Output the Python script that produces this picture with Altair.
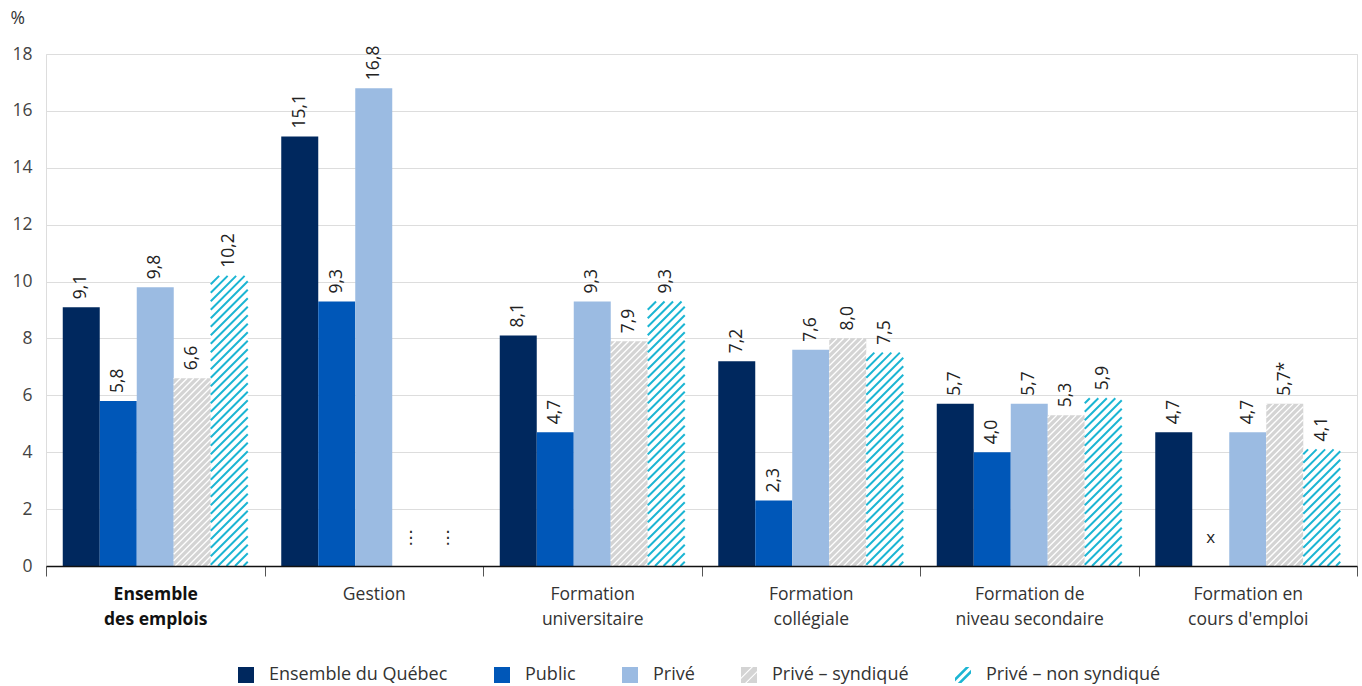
import json
import altair as alt
import pandas as pd

# ---------------- data ----------------
groups = ["Ensemble des emplois", "Gestion", "Formation universitaire",
          "Formation collégiale", "Formation de niveau secondaire",
          "Formation en cours d'emploi"]
group_lines = [["Ensemble", "des emplois"], ["Gestion"], ["Formation", "universitaire"],
               ["Formation", "collégiale"], ["Formation de", "niveau secondaire"],
               ["Formation en", "cours d'emploi"]]
series = ["Ensemble du Québec", "Public", "Privé", "Privé – syndiqué", "Privé – non syndiqué"]

v_ensemble = [9.1, 15.1, 8.1, 7.2, 5.7, 4.7]
v_public = [5.8, 9.3, 4.7, 2.3, 4.0, None]
v_prive = [9.8, 16.8, 9.3, 7.6, 5.7, 4.7]
v_synd = [6.6, None, 7.9, 8.0, 5.3, 5.7]
v_nonsynd = [10.2, None, 9.3, 7.5, 5.9, 4.1]
values = [v_ensemble, v_public, v_prive, v_synd, v_nonsynd]

# footnote flags on labels (group index, series index, flag)
flag_group = [5]
flag_series = [3]
flag_text = ["*"]

# missing-value symbols
missing_group = [1, 1, 5]
missing_series = [3, 4, 1]
missing_symbol = ["⋮", "⋮", "x"]

# ---------------- style ----------------
colors_bar = ["#00285e", "#0057b8", "#9bbbe2", "#d4d4d4", "#ffffff"]
colors_legend = ["#00285e", "#0057b8", "#9bbbe2", "#d4d4d4", "#1bb5d3"]
CYAN = "#1bb5d3"
FONT = "Open Sans"
FS = 17.5

W, H = 1311, 512
YMAX = 18
NG = len(groups)
PXU = W / NG
PYU = H / YMAX
BAR_PX = 37.0
PAD_PX = (PXU - len(series) * BAR_PX) / 2

# ---------------- tables ----------------
rows = []
for si, s in enumerate(series):
    for gi, g in enumerate(groups):
        v = values[si][gi]
        if v is None:
            continue
        lab = f"{v:.1f}".replace(".", ",")
        for fg, fs, ft in zip(flag_group, flag_series, flag_text):
            if fg == gi and fs == si:
                lab += ft
        x0_px = gi * PXU + PAD_PX + si * BAR_PX
        rows.append({"group": g, "series": s, "value": v, "label": lab,
                     "x0": x0_px / PXU, "x1": (x0_px + BAR_PX) / PXU,
                     "xc": (x0_px + BAR_PX / 2) / PXU, "zero": 0})
bars = pd.DataFrame(rows)


def hatch(x0_px, w, h, d, kind):
    segs = []
    c = -w + d / 2
    while c < h:
        ua = max(0.0, -c)
        ub = min(w, h - c)
        if ub - ua > 0.3:
            segs.append({"hx": (x0_px + ua) / PXU, "hy": (ua + c) / PYU,
                         "hx2": (x0_px + ub) / PXU, "hy2": (ub + c) / PYU,
                         "kind": kind})
        c += d
    return segs


hrows = []
for r in rows:
    x0_px = r["x0"] * PXU
    h_px = r["value"] * PYU
    if r["series"] == series[3]:
        hrows += hatch(x0_px, BAR_PX, h_px, 6.5, "white")
    elif r["series"] == series[4]:
        hrows += hatch(x0_px, BAR_PX, h_px, 8.5, "cyan")
hatch_df = pd.DataFrame(hrows)

miss = pd.DataFrame({
    "xc": [(gi * PXU + PAD_PX + (si + 0.5) * BAR_PX) / PXU for gi, si in zip(missing_group, missing_series)],
    "sym": missing_symbol,
    "ylev": [1.0 for _ in missing_symbol],
})

# invisible carrier for the legend (zero-size points inside the plot)
legend_df = pd.DataFrame({"series": series, "x": [0.5] * len(series), "y": [1.0] * len(series)})

# legend symbol paths (unit square -1..1)
SQ = "M-1,-1H1V1H-1Z"
GRAY_HATCH = ("M-1,-1L0.3,-1L-1,0.3Z"
              "M0.5,-1L1,-1L1,-0.5L-0.5,1L-1,1L-1,0.5Z"
              "M1,-0.3L1,1L-0.3,1Z")
CYAN_HATCH = ("M0.35,-1L0.8,-1L-1,0.8L-1,0.35Z"
              "M1,-0.65L1,-0.2L-0.2,1L-0.65,1Z")
paths = [SQ, SQ, SQ, GRAY_HATCH, CYAN_HATCH]

# ---------------- scales/axes ----------------
xscale = alt.Scale(domain=[0, NG], nice=False, zero=False)
yscale = alt.Scale(domain=[0, YMAX], nice=False)

label_expr = ""
for i, lines in enumerate(group_lines):
    arr = "[" + ",".join(json.dumps(l) for l in lines) + "]"
    label_expr += f"datum.value == {i + 0.5} ? {arr} : "
label_expr += "''"

xvals = [i * 0.5 for i in range(2 * NG + 1)]
xaxis = alt.Axis(
    values=xvals, labelExpr=label_expr, title=None,
    domainColor="#111111", domainWidth=1.5,
    tickColor="#555555", tickSize=10, tickWidth=1,
    tickOpacity={"condition": {"test": "datum.value % 1 != 0", "value": 0}, "value": 1},
    labelFontWeight={"condition": {"test": "datum.value == 0.5", "value": "bold"}, "value": "normal"},
    labelColor={"condition": {"test": "datum.value == 0.5", "value": "#111111"}, "value": "#333333"},
    labelPadding=9, labelFontSize=FS, labelLineHeight=25, labelFont=FONT,
    grid=False, labelOverlap=False, labelFlush=False, labelLimit=400, zindex=1,
)
yaxis = alt.Axis(
    values=list(range(0, YMAX + 1, 2)), title="%", titleAngle=0, titleX=-36, titleY=-36,
    titleAlign="left", titleBaseline="middle", titleFontWeight="normal", titleFontSize=FS,
    titleColor="#333333", titleFont=FONT,
    domain=False, ticks=False, tickSize=0, labelPadding=14, labelFontSize=FS,
    labelColor="#444444", labelFont=FONT, grid=True, gridColor="#dddddd", gridWidth=1,
)

leg = alt.Legend(title=None, orient="none", legendX=191, legendY=612, direction="horizontal",
                 symbolSize=256, symbolStrokeWidth=0, labelFontSize=18,
                 labelFont=FONT, labelColor="#333333", labelOffset=14, columnPadding=45,
                 labelLimit=400)

legend_layer = alt.Chart(legend_df).mark_point(filled=True, size=0, opacity=1).encode(
    x=alt.X("x:Q", scale=xscale),
    y=alt.Y("y:Q", scale=yscale),
    fill=alt.Fill("series:N", scale=alt.Scale(domain=series, range=colors_legend), legend=leg),
    shape=alt.Shape("series:N", scale=alt.Scale(domain=series, range=paths), legend=leg),
)

base_bars = alt.Chart(bars)

bar_layer = base_bars.mark_bar(strokeWidth=0).encode(
    x=alt.X("x0:Q", scale=xscale, axis=xaxis),
    x2="x1:Q",
    y=alt.Y("value:Q", scale=yscale, axis=yaxis),
    y2="zero:Q",
    color=alt.Color("series:N", scale=alt.Scale(domain=series, range=colors_bar), legend=None),
)

hatch_layer = alt.Chart(hatch_df).mark_rule().encode(
    x=alt.X("hx:Q", scale=xscale),
    x2="hx2:Q",
    y=alt.Y("hy:Q", scale=yscale),
    y2="hy2:Q",
    stroke=alt.Stroke("kind:N", scale=alt.Scale(domain=["white", "cyan"], range=["#ffffff", CYAN]), legend=None),
    strokeWidth=alt.StrokeWidth("kind:N", scale=alt.Scale(domain=["white", "cyan"], range=[1.3, 2.0]), legend=None),
)

text_layer = base_bars.mark_text(angle=270, align="left", baseline="middle", dx=8,
                                 fontSize=FS, font=FONT, color="#222222").encode(
    x=alt.X("xc:Q", scale=xscale),
    y=alt.Y("value:Q", scale=yscale),
    text="label:N",
)

miss_layer = alt.Chart(miss).mark_text(baseline="middle", align="center", fontSize=17,
                                       font="Open Sans, DejaVu Sans", color="#222222").encode(
    x=alt.X("xc:Q", scale=xscale),
    y=alt.Y("ylev:Q", scale=yscale),
    text="sym:N",
)

chart = alt.layer(legend_layer, bar_layer, hatch_layer, text_layer, miss_layer).properties(
    width=W, height=H,
    padding={"left": 46, "top": 54, "right": 5, "bottom": 120},
    autosize=alt.AutoSizeParams(type="none"),
).configure_view(stroke=None).configure(font=FONT)

chart.save("out.html", embed_options={"renderer": "svg", "actions": False})
